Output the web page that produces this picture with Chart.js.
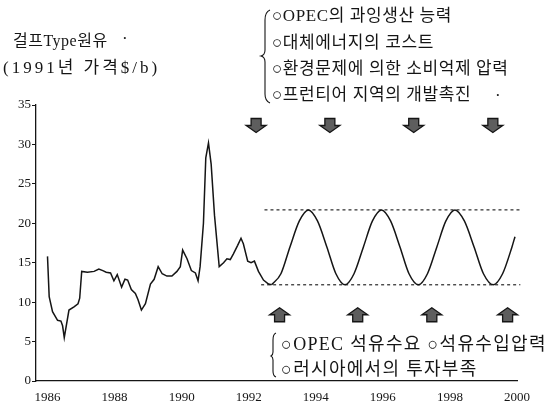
<!DOCTYPE html>
<html>
<head>
<meta charset="utf-8">
<script src="https://cdn.jsdelivr.net/npm/chart.js@4.4.1/dist/chart.umd.min.js"></script>
<style>
  html, body { margin: 0; padding: 0; background: #fff; }
  canvas { display: block; }
</style>
</head>
<body>
<canvas id="oilChart" width="551" height="409"></canvas>
<script>
// 걸프 원유 실질가격 (1991년 가격, $/b)
var histYears = [1986.00, 1986.05, 1986.15, 1986.30, 1986.40, 1986.45, 1986.50, 1986.64, 1986.79, 1986.91,
  1986.96, 1987.02, 1987.19, 1987.39, 1987.53, 1987.65, 1987.75, 1987.88, 1987.98, 1988.08,
  1988.21, 1988.31, 1988.39, 1988.50, 1988.62, 1988.70, 1988.80, 1988.92, 1989.07, 1989.18,
  1989.30, 1989.42, 1989.56, 1989.71, 1989.86, 1989.96, 1990.03, 1990.16, 1990.29, 1990.41,
  1990.49, 1990.55, 1990.65, 1990.72, 1990.80, 1990.88, 1990.98, 1991.12, 1991.25, 1991.35,
  1991.45, 1991.54, 1991.67, 1991.77, 1991.84, 1991.97, 1992.07, 1992.17, 1992.29, 1992.44,
  1992.59, 1992.68];
var histPrices = [15.8, 10.7, 8.8, 7.7, 7.6, 7.0, 5.5, 9.0, 9.4, 9.8,
  10.5, 13.9, 13.8, 13.9, 14.2, 14.0, 13.8, 13.7, 12.7, 13.5,
  11.9, 12.9, 12.8, 11.6, 11.1, 10.3, 9.0, 9.8, 12.3, 12.9,
  14.5, 13.6, 13.3, 13.3, 13.9, 14.5, 16.6, 15.5, 14.0, 13.7,
  12.7, 14.5, 20.0, 28.3, 30.2, 27.5, 21.0, 14.5, 15.0, 15.5,
  15.4, 16.1, 17.2, 18.1, 17.4, 15.2, 15.0, 15.2, 13.9, 12.8,
  12.3, 12.2];

// 전망 (순환 변동)
var projYears = [1992.68, 1992.96, 1993.23, 1993.51, 1993.78, 1994.05, 1994.33, 1994.60, 1994.87,
  1995.14, 1995.42, 1995.69, 1995.96, 1996.23, 1996.51, 1996.78, 1997.06,
  1997.33, 1997.61, 1997.88, 1998.15, 1998.43, 1998.72, 1999.00, 1999.29,
  1999.57, 1999.85, 1999.94];
var projPrices = [12.2, 13.6, 17.0, 20.3, 21.7, 20.3, 17.0, 13.6, 12.2,
  13.6, 17.0, 20.3, 21.7, 20.3, 17.0, 13.6, 12.2,
  13.6, 17.0, 20.3, 21.7, 20.3, 17.0, 13.6, 12.2,
  13.6, 17.0, 18.3];

// 상한/하한 밴드
var upperBandYears = [1992.47, 2000.15];
var upperBand = [21.7, 21.7];
var lowerBandYears = [1992.37, 2000.10];
var lowerBand = [12.2, 12.2];

var xTickYears = [1986, 1988, 1990, 1992, 1994, 1996, 1998, 2000];
var yTickValues = [0, 5, 10, 15, 20, 25, 30, 35];

// 화살표 위치 (연도, 값)
var downArrowYears = [1992.22, 1994.42, 1996.92, 1999.28];
var downArrowLevel = 32.4;
var upArrowYears = [1992.92, 1995.25, 1997.46, 1999.72];
var upArrowLevel = 8.4;

var topNotes = ['○OPEC의 과잉생산 능력', '○대체에너지의 코스트', '○환경문제에 의한 소비억제 압력', '○프런티어 지역의 개발촉진'];
var bottomNotes = ['○OPEC 석유수요 ○석유수입압력', '○러시아에서의 투자부족'];

var ink = '#151515';
var serif = "'Liberation Serif', 'Noto Sans CJK KR', serif";

function toPoints(xs, ys){
    return xs.map(function(x, i){ return {x: x, y: ys[i]}; });
}

function drawArrow(ctx, cx, cy, down){
    var d = down ? 1 : -1;
    ctx.beginPath();
    ctx.moveTo(cx - 5, cy - 7 * d);
    ctx.lineTo(cx + 5, cy - 7 * d);
    ctx.lineTo(cx + 5, cy);
    ctx.lineTo(cx + 10, cy);
    ctx.lineTo(cx, cy + 7 * d);
    ctx.lineTo(cx - 10, cy);
    ctx.lineTo(cx - 5, cy);
    ctx.closePath();
    ctx.fillStyle = '#5e5e5e';
    ctx.fill();
    ctx.lineWidth = 1.3;
    ctx.strokeStyle = ink;
    ctx.stroke();
}

var notesPlugin = {
    id: 'notes',
    afterDraw: function(chart){
        var ctx = chart.ctx;
        var xs = chart.scales.x, ys = chart.scales.y;
        ctx.save();
        ctx.fillStyle = ink;
        ctx.textBaseline = 'middle';
        ctx.textAlign = 'left';

        // 축 제목
        ctx.font = '16px ' + serif;
        ctx.letterSpacing = '0.5px';
        ctx.fillText('걸프Type원유', 13, 42);
        ctx.font = '17px ' + serif;
        ctx.letterSpacing = '3px';
        ctx.fillText('(1991년 가격$/b)', 3, 69);

        // 위쪽 요인
        ctx.font = '17px ' + serif;
        ctx.letterSpacing = '0.6px';
        topNotes.forEach(function(t, i){ ctx.fillText(t, 272, 17 + i * 26.3); });
        ctx.letterSpacing = '0px';
        ctx.fillText('·', 495, 97);
        ctx.fillText('·', 122, 40);

        // 아래쪽 요인
        ctx.font = '18px ' + serif;
        ctx.letterSpacing = '1.3px';
        bottomNotes.forEach(function(t, i){ ctx.fillText(t, 281, 345 + i * 25); });
        ctx.letterSpacing = '0px';

        // 중괄호
        ctx.strokeStyle = ink;
        ctx.lineWidth = 1.1;
        ctx.beginPath();
        ctx.moveTo(270, 10);
        ctx.quadraticCurveTo(265, 12, 265, 20);
        ctx.lineTo(265, 50);
        ctx.quadraticCurveTo(265, 55, 261, 56);
        ctx.quadraticCurveTo(265, 57, 265, 62);
        ctx.lineTo(265, 94);
        ctx.quadraticCurveTo(265, 101, 270, 103);
        ctx.stroke();

        ctx.beginPath();
        ctx.moveTo(276, 333);
        ctx.quadraticCurveTo(273, 334, 273, 340);
        ctx.lineTo(273, 352);
        ctx.quadraticCurveTo(273, 355, 271, 356);
        ctx.quadraticCurveTo(273, 357, 273, 360);
        ctx.lineTo(273, 371);
        ctx.quadraticCurveTo(273, 376, 276, 377);
        ctx.stroke();

        // 화살표
        downArrowYears.forEach(function(yr){
            drawArrow(ctx, xs.getPixelForValue(yr), ys.getPixelForValue(downArrowLevel), true);
        });
        upArrowYears.forEach(function(yr){
            drawArrow(ctx, xs.getPixelForValue(yr), ys.getPixelForValue(upArrowLevel), false);
        });
        ctx.restore();
    }
};

var chart = new Chart(document.getElementById('oilChart').getContext('2d'), {
    type: 'line',
    data: {
        datasets: [{
            data: toPoints(histYears, histPrices),
            borderColor: ink,
            borderWidth: 1.5,
            tension: 0,
            pointRadius: 0
        }, {
            data: toPoints(projYears, projPrices),
            borderColor: ink,
            borderWidth: 1.5,
            cubicInterpolationMode: 'monotone',
            pointRadius: 0
        }, {
            data: toPoints(upperBandYears, upperBand),
            borderColor: ink,
            borderWidth: 1.1,
            borderDash: [3, 3],
            pointRadius: 0,
            clip: false
        }, {
            data: toPoints(lowerBandYears, lowerBand),
            borderColor: ink,
            borderWidth: 1.1,
            borderDash: [3, 3],
            pointRadius: 0,
            clip: false
        }]
    },
    options: {
        responsive: false,
        animation: false,
        layout: { padding: { left: 0, right: 34, top: 105, bottom: 0 } },
        plugins: { legend: { display: false }, tooltip: { enabled: false } },
        scales: {
            x: {
                type: 'linear',
                min: 1985.657,
                max: 2000,
                afterBuildTicks: function(scale){
                    scale.ticks = xTickYears.map(function(v){ return {value: v}; });
                },
                afterFit: function(scale){ scale.height = 28; },
                grid: { drawOnChartArea: false, drawTicks: false },
                border: { display: true, color: ink, width: 1.3 },
                ticks: {
                    padding: 9,
                    color: ink,
                    font: { family: serif, size: 13 },
                    maxRotation: 0,
                    callback: function(v){ return String(v); }
                }
            },
            y: {
                min: 0,
                max: 35,
                afterBuildTicks: function(scale){
                    scale.ticks = yTickValues.map(function(v){ return {value: v}; });
                },
                afterFit: function(scale){ scale.width = 36; },
                grid: { drawOnChartArea: false, drawTicks: true, tickLength: 4, color: ink },
                border: { display: true, color: ink, width: 1.3 },
                ticks: {
                    padding: 1,
                    color: ink,
                    font: { family: serif, size: 13 }
                }
            }
        }
    },
    plugins: [notesPlugin]
});
</script>
</body>
</html>
